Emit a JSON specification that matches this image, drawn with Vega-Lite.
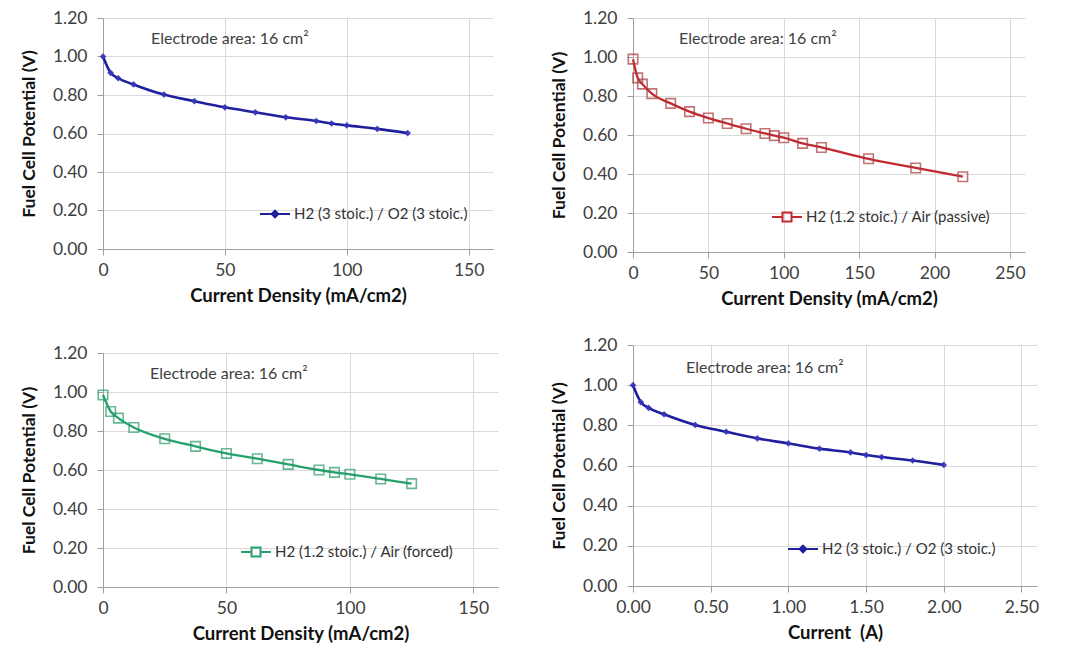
{
  "$schema": "https://vega.github.io/schema/vega-lite/v6.json",
  "background": "white",
  "padding": {"left": 20, "top": 9, "right": 5, "bottom": 5},
  "config": {
    "font": "Lato",
    "view": {"stroke": null},
    "axis": {
      "gridColor": "#d9d9d9",
      "gridWidth": 1,
      "domainColor": "#a0a0a0",
      "tickColor": "#a0a0a0",
      "tickSize": 6,
      "tickCount": 20,
      "labelFontSize": 17.5,
      "labelColor": "#404040",
      "labelFont": "Lato",
      "labelOverlap": false,
      "titleFont": "Lato",
      "titleFontWeight": "bold",
      "titleColor": "#111111"
    },
    "axisX": {"labelPadding": 6, "titlePadding": 8, "labelFlush": false, "titleFontSize": 18.5},
    "axisY": {"labelPadding": 10, "titlePadding": 14, "titleFontSize": 17.5},
    "legend": {
      "labelFont": "Lato",
      "labelFontSize": 15,
      "labelColor": "#333333",
      "labelOffset": 3,
      "labelLimit": 400,
      "padding": 0,
      "symbolSize": 900,
      "symbolStrokeWidth": 2,
      "title": null
    },
    "title": {
      "anchor": "start",
      "frame": "group",
      "orient": "top",
      "offset": 0,
      "fontSize": 16,
      "fontWeight": "normal",
      "color": "#404040",
      "font": "Lato",
      "baseline": "middle",
      "dy": 42
    }
  },
  "datasets": {
    "p1": [
      {"x": 0, "y": 1.000, "series": "H2 (3 stoic.) / O2 (3 stoic.)"},
      {"x": 3.125, "y": 0.915, "series": "H2 (3 stoic.) / O2 (3 stoic.)"},
      {"x": 6.25, "y": 0.887, "series": "H2 (3 stoic.) / O2 (3 stoic.)"},
      {"x": 12.5, "y": 0.855, "series": "H2 (3 stoic.) / O2 (3 stoic.)"},
      {"x": 25, "y": 0.802, "series": "H2 (3 stoic.) / O2 (3 stoic.)"},
      {"x": 37.5, "y": 0.768, "series": "H2 (3 stoic.) / O2 (3 stoic.)"},
      {"x": 50, "y": 0.736, "series": "H2 (3 stoic.) / O2 (3 stoic.)"},
      {"x": 62.5, "y": 0.710, "series": "H2 (3 stoic.) / O2 (3 stoic.)"},
      {"x": 75, "y": 0.684, "series": "H2 (3 stoic.) / O2 (3 stoic.)"},
      {"x": 87.5, "y": 0.665, "series": "H2 (3 stoic.) / O2 (3 stoic.)"},
      {"x": 93.75, "y": 0.652, "series": "H2 (3 stoic.) / O2 (3 stoic.)"},
      {"x": 100, "y": 0.642, "series": "H2 (3 stoic.) / O2 (3 stoic.)"},
      {"x": 112.5, "y": 0.624, "series": "H2 (3 stoic.) / O2 (3 stoic.)"},
      {"x": 125, "y": 0.602, "series": "H2 (3 stoic.) / O2 (3 stoic.)"}
    ],
    "p2": [
      {"x": 0, "y": 0.989, "series": "H2 (1.2 stoic.) / Air (passive)"},
      {"x": 3.125, "y": 0.893, "series": "H2 (1.2 stoic.) / Air (passive)"},
      {"x": 6.25, "y": 0.861, "series": "H2 (1.2 stoic.) / Air (passive)"},
      {"x": 12.5, "y": 0.812, "series": "H2 (1.2 stoic.) / Air (passive)"},
      {"x": 25, "y": 0.762, "series": "H2 (1.2 stoic.) / Air (passive)"},
      {"x": 37.5, "y": 0.720, "series": "H2 (1.2 stoic.) / Air (passive)"},
      {"x": 50, "y": 0.687, "series": "H2 (1.2 stoic.) / Air (passive)"},
      {"x": 62.5, "y": 0.659, "series": "H2 (1.2 stoic.) / Air (passive)"},
      {"x": 75, "y": 0.632, "series": "H2 (1.2 stoic.) / Air (passive)"},
      {"x": 87.5, "y": 0.608, "series": "H2 (1.2 stoic.) / Air (passive)"},
      {"x": 93.75, "y": 0.597, "series": "H2 (1.2 stoic.) / Air (passive)"},
      {"x": 100, "y": 0.586, "series": "H2 (1.2 stoic.) / Air (passive)"},
      {"x": 112.5, "y": 0.557, "series": "H2 (1.2 stoic.) / Air (passive)"},
      {"x": 125, "y": 0.536, "series": "H2 (1.2 stoic.) / Air (passive)"},
      {"x": 156.25, "y": 0.478, "series": "H2 (1.2 stoic.) / Air (passive)"},
      {"x": 187.5, "y": 0.431, "series": "H2 (1.2 stoic.) / Air (passive)"},
      {"x": 218.75, "y": 0.386, "series": "H2 (1.2 stoic.) / Air (passive)"}
    ],
    "p3": [
      {"x": 0, "y": 0.985, "series": "H2 (1.2 stoic.) / Air (forced)"},
      {"x": 3.125, "y": 0.900, "series": "H2 (1.2 stoic.) / Air (forced)"},
      {"x": 6.25, "y": 0.866, "series": "H2 (1.2 stoic.) / Air (forced)"},
      {"x": 12.5, "y": 0.818, "series": "H2 (1.2 stoic.) / Air (forced)"},
      {"x": 25, "y": 0.760, "series": "H2 (1.2 stoic.) / Air (forced)"},
      {"x": 37.5, "y": 0.721, "series": "H2 (1.2 stoic.) / Air (forced)"},
      {"x": 50, "y": 0.685, "series": "H2 (1.2 stoic.) / Air (forced)"},
      {"x": 62.5, "y": 0.658, "series": "H2 (1.2 stoic.) / Air (forced)"},
      {"x": 75, "y": 0.629, "series": "H2 (1.2 stoic.) / Air (forced)"},
      {"x": 87.5, "y": 0.600, "series": "H2 (1.2 stoic.) / Air (forced)"},
      {"x": 93.75, "y": 0.588, "series": "H2 (1.2 stoic.) / Air (forced)"},
      {"x": 100, "y": 0.578, "series": "H2 (1.2 stoic.) / Air (forced)"},
      {"x": 112.5, "y": 0.554, "series": "H2 (1.2 stoic.) / Air (forced)"},
      {"x": 125, "y": 0.530, "series": "H2 (1.2 stoic.) / Air (forced)"}
    ],
    "p4": [
      {"x": 0, "y": 1.000, "series": "H2 (3 stoic.) / O2 (3 stoic.)"},
      {"x": 0.05, "y": 0.916, "series": "H2 (3 stoic.) / O2 (3 stoic.)"},
      {"x": 0.1, "y": 0.887, "series": "H2 (3 stoic.) / O2 (3 stoic.)"},
      {"x": 0.2, "y": 0.855, "series": "H2 (3 stoic.) / O2 (3 stoic.)"},
      {"x": 0.4, "y": 0.802, "series": "H2 (3 stoic.) / O2 (3 stoic.)"},
      {"x": 0.6, "y": 0.768, "series": "H2 (3 stoic.) / O2 (3 stoic.)"},
      {"x": 0.8, "y": 0.735, "series": "H2 (3 stoic.) / O2 (3 stoic.)"},
      {"x": 1.0, "y": 0.710, "series": "H2 (3 stoic.) / O2 (3 stoic.)"},
      {"x": 1.2, "y": 0.684, "series": "H2 (3 stoic.) / O2 (3 stoic.)"},
      {"x": 1.4, "y": 0.665, "series": "H2 (3 stoic.) / O2 (3 stoic.)"},
      {"x": 1.5, "y": 0.652, "series": "H2 (3 stoic.) / O2 (3 stoic.)"},
      {"x": 1.6, "y": 0.642, "series": "H2 (3 stoic.) / O2 (3 stoic.)"},
      {"x": 1.8, "y": 0.625, "series": "H2 (3 stoic.) / O2 (3 stoic.)"},
      {"x": 2.0, "y": 0.603, "series": "H2 (3 stoic.) / O2 (3 stoic.)"}
    ]
  },
  "spacing": 52,
  "bounds": "full",
  "resolve": {"scale": {"color": "independent", "x": "independent", "y": "independent"}, "legend": {"color": "independent"}},
  "hconcat": [
    {
      "spacing": 104,
      "bounds": "flush",
      "resolve": {"scale": {"color": "independent", "x": "independent", "y": "independent"}, "legend": {"color": "independent"}},
      "vconcat": [
        {
          "width": 390,
          "height": 231,
          "title": {"text": "Electrode area: 16 cm²", "dx": 48},
          "data": {"name": "p1"},
          "layer": [
            {
              "mark": {"type": "line", "interpolate": "monotone", "strokeWidth": 2.6},
              "encoding": {
                "x": {"field": "x", "type": "quantitative", "scale": {"domain": [0, 150]}, "axis": {"values": [0, 50, 100, 150], "tickCount": 20, "format": "d", "title": "Current Density (mA/cm2)"}},
                "y": {"field": "y", "type": "quantitative", "scale": {"domain": [0, 1.2]}, "axis": {"values": [0, 0.2, 0.4, 0.6, 0.8, 1.0, 1.2], "tickCount": 20, "format": ".2f", "title": "Fuel Cell Potential (V)"}},
                "color": {"field": "series", "type": "nominal", "scale": {"range": ["#1f1f9e"]},
                  "legend": {"orient": "none", "legendX": 156, "legendY": 180, "symbolType": "M-1,0H1M0,-0.22L0.22,0L0,0.22L-0.22,0Z",
                    "encode": {"symbols": {"update": {"fill": {"value": "#1f1f9e"}, "stroke": {"value": "#1f1f9e"}}}}}}
              }
            },
            {
              "mark": {"type": "point", "shape": "diamond", "filled": true, "size": 45, "color": "#3434b8", "opacity": 0.9},
              "encoding": {"x": {"field": "x", "type": "quantitative"}, "y": {"field": "y", "type": "quantitative"}}
            }
          ]
        },
        {
          "width": 395,
          "height": 234,
          "title": {"text": "Electrode area: 16 cm²", "dx": 47},
          "data": {"name": "p3"},
          "layer": [
            {
              "mark": {"type": "line", "interpolate": "monotone", "strokeWidth": 2.3},
              "encoding": {
                "x": {"field": "x", "type": "quantitative", "scale": {"domain": [0, 150]}, "axis": {"values": [0, 50, 100, 150], "tickCount": 20, "format": "d", "title": "Current Density (mA/cm2)"}},
                "y": {"field": "y", "type": "quantitative", "scale": {"domain": [0, 1.2]}, "axis": {"values": [0, 0.2, 0.4, 0.6, 0.8, 1.0, 1.2], "tickCount": 20, "format": ".2f", "title": "Fuel Cell Potential (V)"}},
                "color": {"field": "series", "type": "nominal", "scale": {"range": ["#26a06c"]},
                  "legend": {"orient": "none", "legendX": 137, "legendY": 183, "symbolType": "M-1,0H-0.3M0.3,0H1M-0.3,-0.3H0.3V0.3H-0.3Z",
                    "encode": {"symbols": {"update": {"fill": {"value": "transparent"}, "stroke": {"value": "#26a06c"}}}}}}
              }
            },
            {
              "mark": {"type": "point", "shape": "square", "filled": false, "size": 90, "strokeWidth": 1.6, "color": "#2a9a68"},
              "encoding": {"x": {"field": "x", "type": "quantitative"}, "y": {"field": "y", "type": "quantitative"}}
            }
          ]
        }
      ]
    },
    {
      "spacing": 93,
      "bounds": "flush",
      "resolve": {"scale": {"color": "independent", "x": "independent", "y": "independent"}, "legend": {"color": "independent"}},
      "vconcat": [
        {
          "width": 392,
          "height": 234,
          "title": {"text": "Electrode area: 16 cm²", "dx": 46},
          "data": {"name": "p2"},
          "layer": [
            {
              "mark": {"type": "line", "interpolate": "monotone", "strokeWidth": 2.3},
              "encoding": {
                "x": {"field": "x", "type": "quantitative", "scale": {"domain": [0, 250]}, "axis": {"values": [0, 50, 100, 150, 200, 250], "tickCount": 20, "format": "d", "title": "Current Density (mA/cm2)"}},
                "y": {"field": "y", "type": "quantitative", "scale": {"domain": [0, 1.2]}, "axis": {"values": [0, 0.2, 0.4, 0.6, 0.8, 1.0, 1.2], "tickCount": 20, "format": ".2f", "title": "Fuel Cell Potential (V)"}},
                "color": {"field": "series", "type": "nominal", "scale": {"range": ["#c22a33"]},
                  "legend": {"orient": "none", "legendX": 138, "legendY": 183, "symbolType": "M-1,0H-0.3M0.3,0H1M-0.3,-0.3H0.3V0.3H-0.3Z",
                    "encode": {"symbols": {"update": {"fill": {"value": "transparent"}, "stroke": {"value": "#c22a33"}}}}}}
              }
            },
            {
              "mark": {"type": "point", "shape": "square", "filled": false, "size": 90, "strokeWidth": 1.6, "color": "#a83a3a"},
              "encoding": {"x": {"field": "x", "type": "quantitative"}, "y": {"field": "y", "type": "quantitative"}}
            }
          ]
        },
        {
          "width": 404,
          "height": 241,
          "title": {"text": "Electrode area: 16 cm²", "dx": 53, "dy": 44},
          "data": {"name": "p4"},
          "layer": [
            {
              "mark": {"type": "line", "interpolate": "monotone", "strokeWidth": 2.6},
              "encoding": {
                "x": {"field": "x", "type": "quantitative", "scale": {"domain": [0, 2.5]}, "axis": {"values": [0, 0.5, 1, 1.5, 2, 2.5], "tickCount": 20, "format": ".2f", "title": "Current\u00a0\u00a0(A)"}},
                "y": {"field": "y", "type": "quantitative", "scale": {"domain": [0, 1.2]}, "axis": {"values": [0, 0.2, 0.4, 0.6, 0.8, 1.0, 1.2], "tickCount": 20, "format": ".2f", "title": "Fuel Cell Potential (V)"}},
                "color": {"field": "series", "type": "nominal", "scale": {"range": ["#1f1f9e"]},
                  "legend": {"orient": "none", "legendX": 154, "legendY": 188, "symbolType": "M-1,0H1M0,-0.22L0.22,0L0,0.22L-0.22,0Z",
                    "encode": {"symbols": {"update": {"fill": {"value": "#1f1f9e"}, "stroke": {"value": "#1f1f9e"}}}}}}
              }
            },
            {
              "mark": {"type": "point", "shape": "diamond", "filled": true, "size": 45, "color": "#3434b8", "opacity": 0.9},
              "encoding": {"x": {"field": "x", "type": "quantitative"}, "y": {"field": "y", "type": "quantitative"}}
            }
          ]
        }
      ]
    }
  ]
}
